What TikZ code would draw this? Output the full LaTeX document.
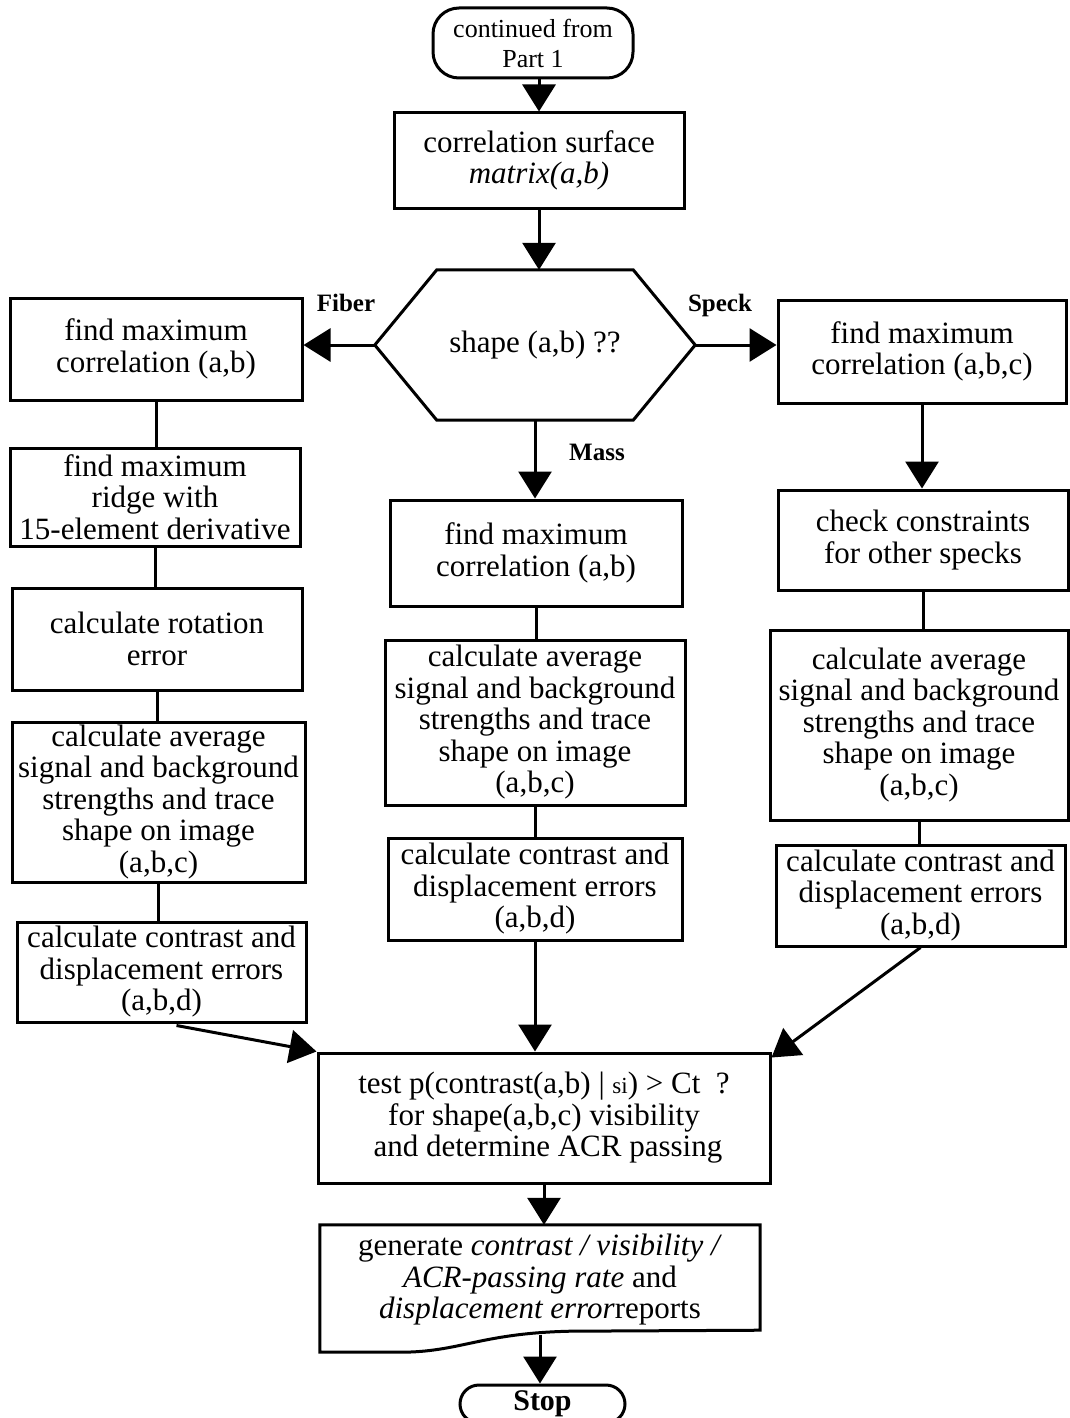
\documentclass[tikz,border=0pt]{standalone}
\usepackage{fontspec}
\setmainfont{Liberation Serif}
\usetikzlibrary{arrows.meta,calc}
\newcommand\fsz{\fontsize{31}{31.5}\selectfont}
\begin{document}
\begin{tikzpicture}[x=1pt,y=-1pt,
  box/.style={draw, line width=3pt, inner sep=0pt, align=center, font=\fsz},
  txt/.style={inner sep=0pt, align=center, font=\fsz},
  lbl/.style={inner sep=0pt, font=\fontsize{25}{25}\selectfont\bfseries},
  con/.style={line width=3pt},
  arr/.style={line width=3pt, -{Triangle[length=27pt,width=33pt]}}]
\useasboundingbox (0,0) rectangle (1070,1418);
% start terminal
\node[box, rounded corners=26pt, minimum width=200pt, minimum height=70pt,
      font=\fontsize{26}{30}\selectfont] (start) at (533,43) {continued from\\Part 1};
\node[box, minimum width=290pt, minimum height=95pt] (corr) at (539,160.5)
  {correlation surface\\\textit{matrix(a,b)}};
% hexagon
\node[txt, minimum width=320pt, minimum height=150pt] (hex) at (535,345) {shape (a,b) ??};
\draw[con, line join=miter] (hex.west) -- ($(hex.north west)+(62,0)$) -- ($(hex.north east)+(-62,0)$)
  -- (hex.east) -- ($(hex.south east)+(-62,0)$) -- ($(hex.south west)+(62,0)$) -- cycle;
\node[lbl] (fib) at (346,303) {Fiber};
\node[lbl] (spk) at (720,305) {Speck};
\node[lbl] (mas) at (597,452) {Mass};
% left column
\node[box, minimum width=292pt, minimum height=102pt] (L1) at (156,349) {find maximum\\correlation (a,b)};
\node[box, minimum width=290pt, minimum height=98pt] (L2) at (155,497) {find maximum\\ridge with\\15-element derivative};
\node[box, minimum width=290pt, minimum height=102pt] (L3) at (157,639) {calculate rotation\\error};
\node[box, minimum width=293pt, minimum height=160pt] (L4) at (158.5,802) {calculate average\\signal and background\\strengths and trace\\shape on image\\(a,b,c)};
\node[box, minimum width=289pt, minimum height=100pt] (L5) at (161.5,972) {calculate contrast and\\displacement errors\\(a,b,d)};
% middle column
\node[box, minimum width=292pt, minimum height=106pt] (M1) at (536,553) {find maximum\\correlation (a,b)};
\node[box, minimum width=300pt, minimum height=165pt] (M2) at (535,722.5) {calculate average\\signal and background\\strengths and trace\\shape on image\\(a,b,c)};
\node[box, minimum width=294pt, minimum height=102pt] (M3) at (535,889) {calculate contrast and\\displacement errors\\(a,b,d)};
% right column
\node[box, minimum width=288pt, minimum height=103pt] (R1) at (922,351.5) {find maximum\\correlation (a,b,c)};
\node[box, minimum width=290pt, minimum height=100pt] (R2) at (923,540) {check constraints\\for other specks};
\node[box, minimum width=298pt, minimum height=190pt] (R3) at (919,725) {calculate average\\signal and background\\strengths and trace\\shape on image\\(a,b,c)};
\node[box, minimum width=289pt, minimum height=101pt] (R4) at (920.5,895.5) {calculate contrast and\\displacement errors\\(a,b,d)};
% test
\node[box, minimum width=452pt, minimum height=130pt] (T) at (544,1118)
  {test p(contrast(a,b) | {\fontsize{23}{23}\selectfont si}) > Ct\ \ ?\\for shape(a,b,c) visibility\\\ and determine ACR passing};
% document
\node[txt, minimum width=440pt, minimum height=110pt] (D) at (540,1280)
  {generate \textit{contrast / visibility /}\\\textit{ACR-passing rate} and\\\textit{displacement error}reports};
\draw[con, line join=miter] (D.north west) -- (D.north east) -- ($(D.south east)+(0,-5)$)
  -- ($(D.south)+(30,-4)$) .. controls ($(D.south)+(-60,-2)$) and ($(D.south)+(-80,17)$) .. ($(D.south)+(-140,17)$)
  -- ($(D.south west)+(0,17)$) -- cycle;
% stop
\node[box, rounded corners=19pt, minimum width=165pt, minimum height=38pt,
      font=\fontsize{30}{30}\selectfont\bfseries] (stop) at (542.5,1404) {Stop};
% connectors
\draw[arr] (start.south -| corr.north) -- (corr.north);
\draw[arr] (corr.south) -- (corr.south |- hex.north);
\draw[arr] (hex.west) -- (hex.west -| L1.east);
\draw[arr] (hex.east) -- (hex.east -| R1.west);
\draw[arr] (hex.south) -- (hex.south |- M1.north);
\draw[con] (L1.south) -- (L1.south |- L2.north);
\draw[con] (L2.south) -- (L2.south |- L3.north);
\draw[con] (L3.south) -- (L3.south |- L4.north);
\draw[con] (L4.south) -- (L4.south |- L5.north);
\draw[con] (M1.south) -- (M1.south |- M2.north);
\draw[con] (M2.south) -- (M2.south |- M3.north);
\draw[arr] (R1.south) -- (R1.south |- R2.north);
\draw[con] (R2.south) -- (R2.south |- R3.north);
\draw[con] (R3.south) -- (R3.south |- R4.north);
\draw[arr] (M3.south) -- (M3.south |- T.north);
\draw[arr] ($(L5.south)+(15,2)$) -- (T.north west);
\draw[arr] (R4.south) -- ($(T.north east)+(0,6)$);
\draw[arr] (T.south) -- (T.south |- D.north);
\draw[arr] (D.south) -- (D.south |- stop.north);
\end{tikzpicture}
\end{document}
